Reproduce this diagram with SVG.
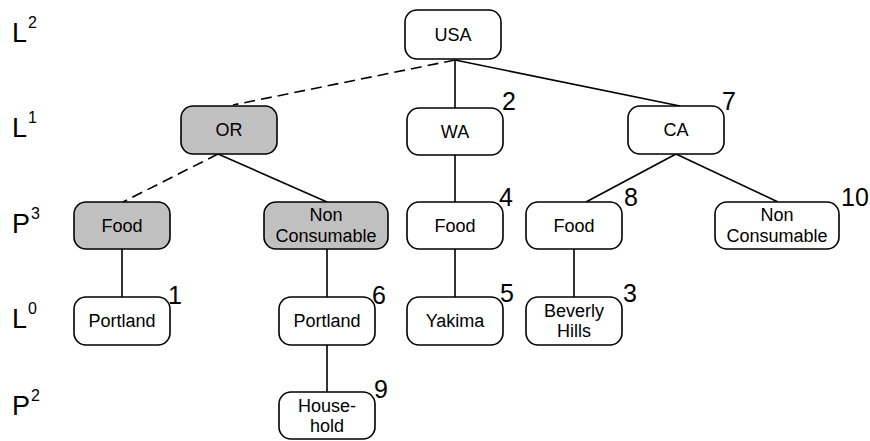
<svg xmlns="http://www.w3.org/2000/svg" width="870" height="441" viewBox="0 0 870 441">
  <style>
    .box { fill: #ffffff; stroke: #000000; stroke-width: 1.6; }
    .shaded { fill: #c0c0c0; }
    .lbl { font-family: "Liberation Sans", Arial, sans-serif; font-size: 18px; fill: #000; text-anchor: middle; }
    .num { font-family: "Liberation Sans", Arial, sans-serif; font-size: 25px; fill: #000; }
    .lvl { font-family: "Liberation Sans", Arial, sans-serif; font-size: 27px; fill: #000; }
    .sup { font-size: 16px; }
    .edge { stroke: #000; stroke-width: 1.6; fill: none; }
    .dash { stroke-dasharray: 11 6; }
  </style>

  <!-- level labels -->
  <g id="levels">
    <text class="lvl" x="12" y="42">L<tspan class="sup" dx="1" dy="-14">2</tspan></text>
    <text class="lvl" x="12" y="137">L<tspan class="sup" dx="1" dy="-14">1</tspan></text>
    <text class="lvl" x="12" y="233">P<tspan class="sup" dx="1" dy="-14">3</tspan></text>
    <text class="lvl" x="12" y="328">L<tspan class="sup" dx="1" dy="-14">0</tspan></text>
    <text class="lvl" x="12" y="415">P<tspan class="sup" dx="1" dy="-14">2</tspan></text>
  </g>

  <!-- connectors -->
  <g id="connectors">
    <line class="edge dash" x1="455" y1="60" x2="233" y2="105"/>
    <line class="edge" x1="455" y1="60" x2="455" y2="108"/>
    <line class="edge" x1="455" y1="60" x2="680" y2="106"/>
    <line class="edge dash" x1="218" y1="154" x2="123" y2="202"/>
    <line class="edge" x1="218" y1="154" x2="327" y2="202"/>
    <line class="edge" x1="122" y1="249" x2="122" y2="297"/>
    <line class="edge" x1="327" y1="249" x2="327" y2="297"/>
    <line class="edge" x1="327" y1="345" x2="327" y2="392"/>
    <line class="edge" x1="455" y1="155" x2="455" y2="202"/>
    <line class="edge" x1="455" y1="249" x2="455" y2="297"/>
    <line class="edge" x1="676" y1="154" x2="586" y2="202"/>
    <line class="edge" x1="676" y1="154" x2="778" y2="202"/>
    <line class="edge" x1="574" y1="249" x2="574" y2="297"/>
  </g>

  <g id="usa">
    <rect class="box" x="405" y="10" width="96" height="49" rx="12"/>
    <text class="lbl" x="453" y="41">USA</text>
  </g>

  <g id="or">
    <rect class="box shaded" x="181" y="106" width="96" height="48" rx="12"/>
    <text class="lbl" x="229" y="136">OR</text>
  </g>

  <g id="wa">
    <rect class="box" x="407" y="108" width="96" height="47" rx="12"/>
    <text class="lbl" x="455" y="138">WA</text>
    <text class="num" x="502" y="110">2</text>
  </g>

  <g id="ca">
    <rect class="box" x="628" y="106" width="96" height="48" rx="12"/>
    <text class="lbl" x="676" y="136">CA</text>
    <text class="num" x="722" y="110">7</text>
  </g>

  <g id="or-food">
    <rect class="box shaded" x="74" y="202" width="96" height="47" rx="12"/>
    <text class="lbl" x="122" y="232">Food</text>
  </g>

  <g id="or-nonconsumable">
    <rect class="box shaded" x="264" y="202" width="124" height="47" rx="12"/>
    <text class="lbl" x="326" y="221">Non</text>
    <text class="lbl" x="326" y="242">Consumable</text>
  </g>

  <g id="wa-food">
    <rect class="box" x="407" y="202" width="96" height="47" rx="12"/>
    <text class="lbl" x="455" y="232">Food</text>
    <text class="num" x="499" y="206">4</text>
  </g>

  <g id="ca-food">
    <rect class="box" x="526" y="202" width="96" height="47" rx="12"/>
    <text class="lbl" x="574" y="232">Food</text>
    <text class="num" x="624" y="206">8</text>
  </g>

  <g id="ca-nonconsumable">
    <rect class="box" x="715" y="202" width="124" height="47" rx="12"/>
    <text class="lbl" x="777" y="221">Non</text>
    <text class="lbl" x="777" y="242">Consumable</text>
    <text class="num" x="841" y="206">10</text>
  </g>

  <g id="portland-food">
    <rect class="box" x="74" y="297" width="96" height="48" rx="12"/>
    <text class="lbl" x="122" y="327">Portland</text>
    <text class="num" x="168" y="304">1</text>
  </g>

  <g id="portland-nonconsumable">
    <rect class="box" x="279" y="297" width="96" height="48" rx="12"/>
    <text class="lbl" x="327" y="327">Portland</text>
    <text class="num" x="372" y="304">6</text>
  </g>

  <g id="yakima">
    <rect class="box" x="407" y="297" width="96" height="48" rx="12"/>
    <text class="lbl" x="455" y="327">Yakima</text>
    <text class="num" x="500" y="302">5</text>
  </g>

  <g id="beverly-hills">
    <rect class="box" x="526" y="297" width="96" height="48" rx="12"/>
    <text class="lbl" x="574" y="317">Beverly</text>
    <text class="lbl" x="574" y="337">Hills</text>
    <text class="num" x="623" y="302">3</text>
  </g>

  <g id="household">
    <rect class="box" x="279" y="392" width="96" height="47" rx="12"/>
    <text class="lbl" x="327" y="412">House-</text>
    <text class="lbl" x="327" y="432">hold</text>
    <text class="num" x="374" y="398">9</text>
  </g>
</svg>
